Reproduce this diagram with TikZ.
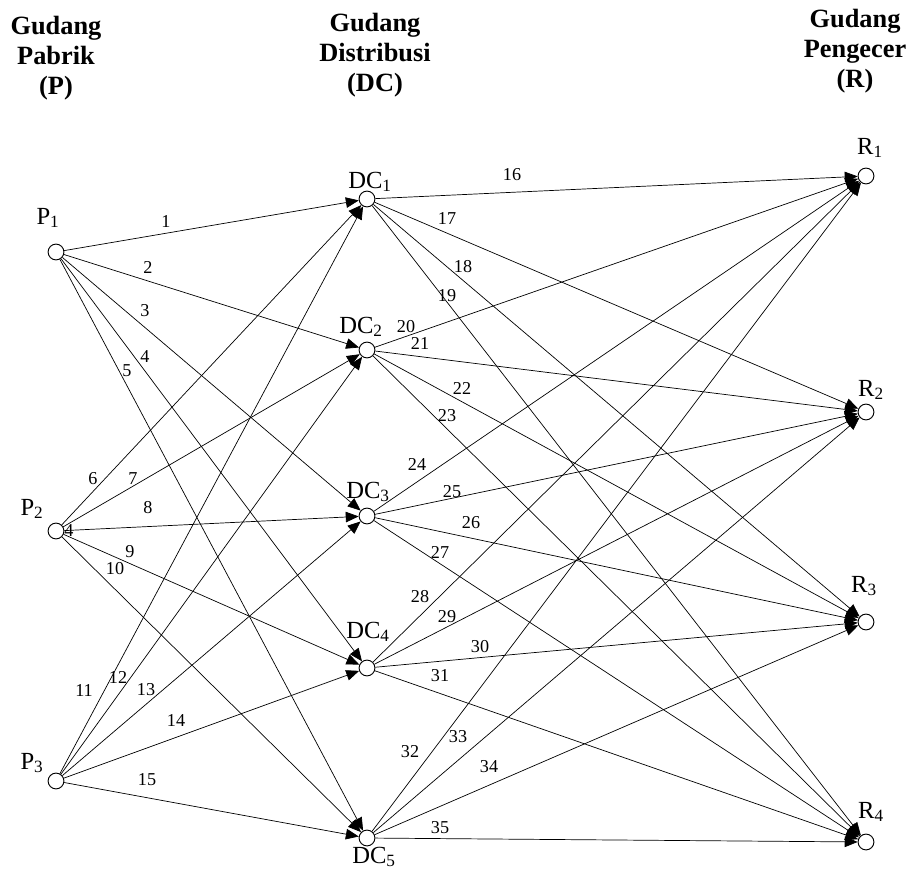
\documentclass[tikz,border=0pt]{standalone}
\usepackage{fontspec}
\setmainfont{Liberation Serif}
\usetikzlibrary{arrows.meta}

\begin{document}
\begin{tikzpicture}[x=0.03cm,y=-0.03cm]
          \tikzset{
            vertex/.style={circle,draw,fill=white,line width=0.8pt,minimum size=13.5pt,inner sep=0pt},
            edge/.style={-{Triangle[length=11pt,width=9pt]},line width=0.6pt},
            tag/.style={font=\fontsize{21}{24}\selectfont,inner sep=0pt},
            num/.style={font=\fontsize{15.5}{18}\selectfont,inner sep=0pt},
            head/.style={font=\fontsize{22.5}{25.5}\selectfont\bfseries,align=center,inner sep=0pt}
          }
          \useasboundingbox (0,0) rectangle (907,870);

          % column titles
          \node[head] (hp) at (56,58) {Gudang\\Pabrik\\(P)};
          \node[head] (hdc) at (375,55) {Gudang\\Distribusi\\(DC)};
          \node[head] (hr) at (855,51) {Gudang\\Pengecer\\(R)};

          % vertices
          \node[vertex] (p1) at (56,252) {};
          \node[vertex] (p2) at (56,531) {};
          \node[vertex] (p3) at (56,781) {};
          \node[vertex] (dc1) at (367,199) {};
          \node[vertex] (dc2) at (367,350) {};
          \node[vertex] (dc3) at (367,516) {};
          \node[vertex] (dc4) at (367,668) {};
          \node[vertex] (dc5) at (367,838) {};
          \node[vertex] (r1) at (866,176) {};
          \node[vertex] (r2) at (866,412) {};
          \node[vertex] (r3) at (866,622) {};
          \node[vertex] (r4) at (866,842) {};

          % vertex names
          \node[tag] (p1t) at (48,218) {P\textsubscript{1}};
          \node[tag] (p2t) at (32,509) {P\textsubscript{2}};
          \node[tag] (p3t) at (32,763) {P\textsubscript{3}};
          \node[tag] (dc1t) at (370,182) {DC\textsubscript{1}};
          \node[tag] (dc2t) at (361,327) {DC\textsubscript{2}};
          \node[tag] (dc3t) at (368,492) {DC\textsubscript{3}};
          \node[tag] (dc4t) at (368,632) {DC\textsubscript{4}};
          \node[tag] (dc5t) at (374,857) {DC\textsubscript{5}};
          \node[tag] (r1t) at (870,148) {R\textsubscript{1}};
          \node[tag] (r2t) at (871,390) {R\textsubscript{2}};
          \node[tag] (r3t) at (864,586) {R\textsubscript{3}};
          \node[tag] (r4t) at (871,812) {R\textsubscript{4}};
          \node[num] (p2x) at (69,531) {4};

          % edges P -> DC
          \draw[edge] (p1) -- (dc1);
          \draw[edge] (p1) -- (dc2);
          \draw[edge] (p1) -- (dc3);
          \draw[edge] (p1) -- (dc4);
          \draw[edge] (p1) -- (dc5);
          \draw[edge] (p2) -- (dc1);
          \draw[edge] (p2) -- (dc2);
          \draw[edge] (p2) -- (dc3);
          \draw[edge] (p2) -- (dc4);
          \draw[edge] (p2) -- (dc5);
          \draw[edge] (p3) -- (dc1);
          \draw[edge] (p3) -- (dc2);
          \draw[edge] (p3) -- (dc3);
          \draw[edge] (p3) -- (dc4);
          \draw[edge] (p3) -- (dc5);

          % edges DC -> R
          \draw[edge] (dc1) -- (r1);
          \draw[edge] (dc1) -- (r2);
          \draw[edge] (dc1) -- (r3);
          \draw[edge] (dc1) -- (r4);
          \draw[edge] (dc2) -- (r1);
          \draw[edge] (dc2) -- (r2);
          \draw[edge] (dc2) -- (r3);
          \draw[edge] (dc2) -- (r4);
          \draw[edge] (dc3) -- (r1);
          \draw[edge] (dc3) -- (r2);
          \draw[edge] (dc3) -- (r3);
          \draw[edge] (dc3) -- (r4);
          \draw[edge] (dc4) -- (r1);
          \draw[edge] (dc4) -- (r2);
          \draw[edge] (dc4) -- (r3);
          \draw[edge] (dc4) -- (r4);
          \draw[edge] (dc5) -- (r1);
          \draw[edge] (dc5) -- (r2);
          \draw[edge] (dc5) -- (r3);
          \draw[edge] (dc5) -- (r4);

          % route numbers
          \foreach \n/\x/\y in {1/166/222, 2/148/267, 3/145/311, 4/145/357, 5/127/371,
              6/93/479, 7/133/479, 8/148/508, 9/130/552, 10/115/569,
              11/84/690, 12/118/677, 13/146/690, 14/176/720, 15/147/780,
              16/512/175, 17/447/219, 18/463/267, 19/447/296,
              20/406/327, 21/420/343, 22/462/388, 23/447/416,
              24/417/464, 25/452/492, 26/471/523, 27/440/552,
              28/420/597, 29/447/617, 30/480/647, 31/440/676,
              32/410/752, 33/458/737, 34/489/767, 35/440/828}
            \node[num] (e\n) at (\x,\y) {\n};
        \end{tikzpicture}
\end{document}
